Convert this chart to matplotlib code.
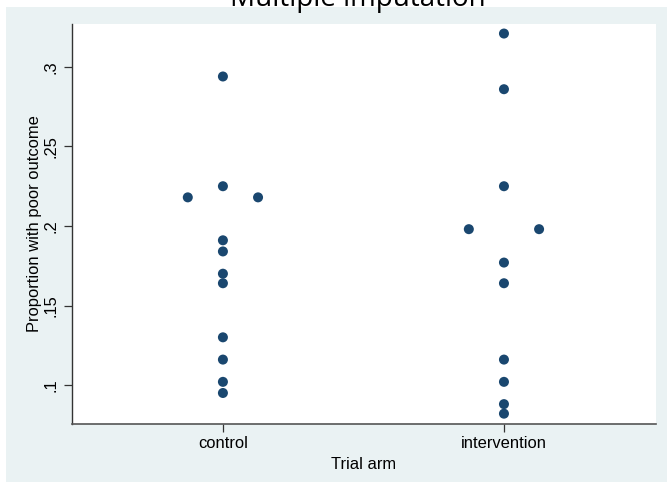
import numpy as np
import matplotlib.pyplot as plt
from matplotlib.patches import Rectangle

arms = ['control', 'intervention']
control = [0.294, 0.225, 0.218, 0.218, 0.191, 0.184, 0.170, 0.164, 0.130, 0.116, 0.102, 0.095]
intervention = [0.321, 0.286, 0.225, 0.198, 0.198, 0.177, 0.164, 0.116, 0.102, 0.088, 0.082]
yticks = [0.1, 0.15, 0.2, 0.25, 0.3]
yticklabels = ['.1', '.15', '.2', '.25', '.3']

navy = '#1a476f'
panel = '#eaf2f3'

W, H = 667, 487
fig = plt.figure(figsize=(W / 100, H / 100), dpi=100)
fig.patch.set_facecolor('white')
fig.patches.append(Rectangle((6 / W, 5 / H), 661 / W, 475 / H, transform=fig.transFigure,
                             facecolor=panel, edgecolor='none', zorder=-10))

ax = fig.add_axes([72 / W, 63 / H, 584 / W, 400 / H])
ax.set_facecolor('white')


def spread(vals, gap=0.25):
    # tied values sit side by side around the arm's centre
    counts = {v: vals.count(v) for v in vals}
    seen = {}
    xs = []
    for v in vals:
        k = seen.get(v, 0)
        xs.append((k - (counts[v] - 1) / 2) * gap)
        seen[v] = k + 1
    return np.array(xs)


for i, vals in enumerate([control, intervention]):
    ax.scatter(i + spread(vals), vals, s=52, color=navy, edgecolor='none', zorder=3)

ax.set_xlim(-0.537, 1.541)
ax.set_ylim(0.0755, 0.327)
ax.set_xticks(range(len(arms)))
ax.set_xticklabels(arms, fontsize=11.9, family='Liberation Sans')
ax.set_yticks(yticks)
ax.set_yticklabels(yticklabels, fontsize=11.9, family='Liberation Sans', rotation=90, va='center')
ax.tick_params(axis='both', length=6, width=0.9, color='#333333', pad=3)
ax.tick_params(axis='y', pad=4)
ax.set_xlabel('Trial arm', fontsize=11.9, family='Liberation Sans', labelpad=4)
ax.set_ylabel('Proportion with poor outcome', fontsize=11.9, family='Liberation Sans', labelpad=1)

for s in ['top', 'right']:
    ax.spines[s].set_visible(False)
ax.spines['left'].set_color('#333333')
ax.spines['bottom'].set_color('#555555')
ax.spines['left'].set_linewidth(1.0)
ax.spines['bottom'].set_linewidth(1.2)

fig.text(358 / W, 1 - 6 / H, 'Multiple imputation', ha='center', va='baseline',
         fontsize=20, family='Open Sans', color='black')

fig.savefig('out.png', dpi=100, facecolor=fig.get_facecolor())
